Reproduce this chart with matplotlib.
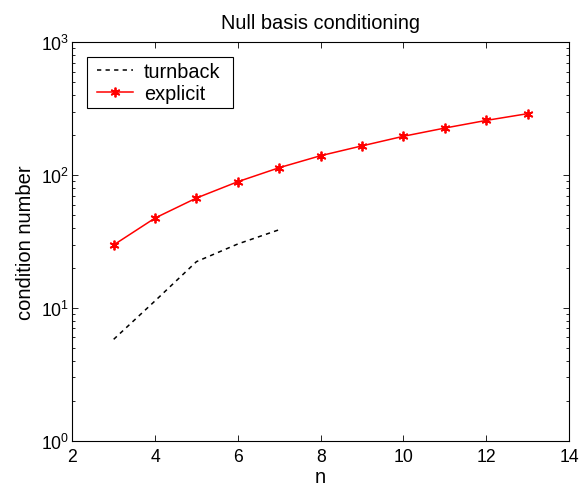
import matplotlib
matplotlib.use("Agg")
import matplotlib.pyplot as plt
from matplotlib.path import Path
from matplotlib.legend_handler import HandlerLine2D
from matplotlib.ticker import LogLocator, NullFormatter

plt.rcParams['font.family'] = ['Liberation Sans', 'DejaVu Sans']
plt.rcParams['mathtext.fontset'] = 'custom'
plt.rcParams['mathtext.rm'] = 'Liberation Sans'
plt.rcParams['mathtext.it'] = 'Liberation Sans'
plt.rcParams['mathtext.default'] = 'regular'

n_turnback = [3, 4, 5, 6, 7]
cond_turnback = [5.8, 11.3, 22.3, 30.3, 38.8]

n_explicit = [3, 4, 5, 6, 7, 8, 9, 10, 11, 12, 13]
cond_explicit = [29.8, 47.5, 67.2, 89.2, 113.7, 140, 166, 196, 226, 258, 290]

x_ticks = [2, 4, 6, 8, 10, 12, 14]

fig = plt.figure(figsize=(5.84, 4.89), dpi=100)
ax = fig.add_axes([0.1238, 0.0967, 0.9743 - 0.1238, 0.9115 - 0.0967])

line_tb, = ax.semilogy(n_turnback, cond_turnback, color='black',
                       linestyle=(0, (2.8, 2.8)), linewidth=1.1, label='turnback')
line_ex, = ax.semilogy(n_explicit, cond_explicit, color='red', linestyle='-',
                       linewidth=1.1, marker=(6, 2, 0), markersize=7,
                       markeredgewidth=1.3, markeredgecolor='red', label='explicit')

ax.set_xlim(2, 14)
ax.set_ylim(1, 1000)
ax.set_xticks(x_ticks)
ax.yaxis.set_major_locator(LogLocator(base=10, numticks=10))
ax.yaxis.set_minor_locator(LogLocator(base=10, subs=range(2, 10), numticks=20))
ax.yaxis.set_minor_formatter(NullFormatter())

ax.tick_params(which='both', direction='in', top=True, right=True,
               labelsize=12.7, width=0.6)
ax.tick_params(which='major', length=4)
ax.tick_params(which='minor', length=2.5)
ax.tick_params(axis='x', pad=5.5)
ax.tick_params(axis='y', pad=2.5)
for s in ax.spines.values():
    s.set_linewidth(0.8)

ax.set_title('Null basis conditioning', fontsize=14.4, pad=10.5)
ax.set_xlabel('n', fontsize=14.5, labelpad=1)
ax.set_ylabel('condition number', fontsize=14.5, labelpad=4)


def legend_frame(x0, y0, width, height, mutation_size):
    # plain rectangle with a little extra room on the right-hand side
    x1 = x0 + width + 0.4 * mutation_size
    y1 = y0 + height
    return Path([(x0, y0), (x1, y0), (x1, y1), (x0, y1), (x0, y0)], closed=True)


handler = HandlerLine2D(xpad=0.27)
leg = ax.legend(loc='upper left', fontsize=14.3, fancybox=False, framealpha=1,
                edgecolor='black', borderpad=0.25, handlelength=2.08,
                handletextpad=0.55, labelspacing=0.13, borderaxespad=0,
                bbox_to_anchor=(0.029, 0.962),
                handler_map={line_tb: handler, line_ex: handler})
leg.get_frame().set_linewidth(0.8)
leg.get_frame().set_boxstyle(legend_frame)

fig.savefig('out.png', dpi=100)
